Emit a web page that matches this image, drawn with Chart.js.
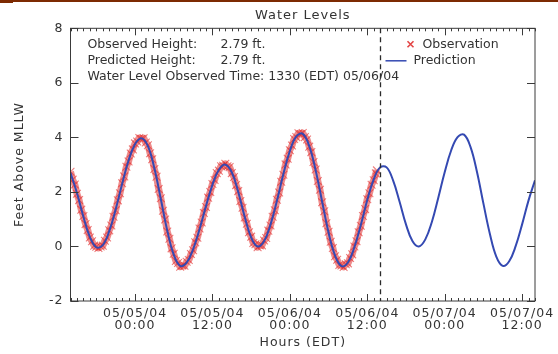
<!DOCTYPE html>
<html>
<head>
<meta charset="utf-8">
<title>Water Levels</title>
<style>
  html, body { margin: 0; padding: 0; background: #fff; }
  #wrap { position: relative; width: 558px; height: 354px; overflow: hidden; }
  #topbar { position: absolute; left: 0; top: 0; width: 558px; height: 2px; background: #7d2a02; }
  #topbar-left { position: absolute; left: 0; top: 0; width: 13px; height: 3px; background: #7d2a02; }
  canvas { display: block; }
</style>
<script src="https://cdn.jsdelivr.net/npm/chart.js@4/dist/chart.umd.min.js"></script>
</head>
<body>
<div id="wrap">
  <canvas id="tide" width="558" height="354"></canvas>
  <div id="topbar"></div>
  <div id="topbar-left"></div>
</div>
<script>
const chartTitle = 'Water Levels';
const yAxisTitle = 'Feet Above MLLW';
const xAxisTitle = 'Hours (EDT)';

// x values are hours after 05/04/04 14:00 EDT
const xMinHour = 0;
const xMaxHour = 72;
const xTickHours = [10, 22, 34, 46, 58, 70];
const xTickLabels = [
  ['05/05/04', '00:00'], ['05/05/04', '12:00'], ['05/06/04', '00:00'],
  ['05/06/04', '12:00'], ['05/07/04', '00:00'], ['05/07/04', '12:00']
];
const yTicks = [-2, 0, 2, 4, 6, 8];

// predicted tide, one value per hour
const predStepHours = 1;
const predictedFeet = [
  2.70, 1.96, 1.09, 0.35, -0.03, 0.05, 0.56, 1.36, 2.29, 3.15,
  3.75, 3.97, 3.68, 2.87, 1.74, 0.58, -0.30, -0.71, -0.59, -0.11,
  0.63, 1.48, 2.26, 2.81, 3.00, 2.72, 2.00, 1.09, 0.33, 0.00,
  0.19, 0.80, 1.68, 2.66, 3.50, 4.04, 4.13, 3.69, 2.79, 1.65,
  0.51, -0.33, -0.72, -0.59, -0.03, 0.79, 1.70, 2.46, 2.90, 2.90,
  2.42, 1.65, 0.81, 0.20, 0.00, 0.26, 0.89, 1.78, 2.72, 3.52,
  4.01, 4.10, 3.65, 2.74, 1.58, 0.47, -0.37, -0.71, -0.54, 0.01,
  0.81, 1.69, 2.43
];

// observed water level, one value every 20 minutes
const obsStepMinutes = 20;
const observedFeet = [
  2.74, 2.45, 2.27, 1.93, 1.70, 1.35, 1.12, 0.82, 0.60, 0.33,
  0.19, 0.03, -0.01, -0.06, 0.00, 0.03, 0.21, 0.33, 0.59, 0.77,
  1.09, 1.33, 1.69, 1.95, 2.32, 2.57, 2.92, 3.12, 3.41, 3.56,
  3.78, 3.85, 3.98, 3.95, 3.97, 3.81, 3.71, 3.42, 3.20, 2.84,
  2.56, 2.11, 1.77, 1.31, 0.99, 0.55, 0.28, -0.07, -0.27, -0.53,
  -0.61, -0.74, -0.70, -0.71, -0.56, -0.50, -0.28, -0.14, 0.15, 0.32,
  0.66, 0.88, 1.23, 1.45, 1.79, 2.00, 2.29, 2.44, 2.69, 2.78,
  2.94, 2.96, 3.03, 2.94, 2.91, 2.69, 2.55, 2.25, 2.03, 1.67,
  1.42, 1.06, 0.83, 0.52, 0.36, 0.13, 0.08, -0.03, 0.04, 0.04,
  0.22, 0.31, 0.58, 0.77, 1.09, 1.33, 1.71, 1.98, 2.37, 2.63,
  3.01, 3.22, 3.53, 3.70, 3.94, 4.01, 4.15, 4.12, 4.16, 4.01,
  3.92, 3.66, 3.46, 3.10, 2.82, 2.40, 2.08, 1.62, 1.29, 0.85,
  0.54, 0.17, -0.06, -0.36, -0.49, -0.68, -0.70, -0.75, -0.65, -0.62,
  -0.42, -0.29, 0.00, 0.19, 0.52, 0.76, 1.12, 1.37, 1.73, 1.95,
  2.26, 2.43, 2.68
];
const latestObsHour = 47.5;   // 1330 EDT 05/06/04
const latestObsFeet = 2.79;
const latestPredFeet = 2.79;
const markerHour = 48;

const obsColor = 'rgba(220, 22, 22, 0.8)';
const predColor = '#3449b2';
const inkColor = '#333';
const textFont = '12.5px "DejaVu Sans"';

const predPoints = predictedFeet.map((v, i) => ({ x: xMinHour + i * predStepHours, y: v }));
const obsPoints = observedFeet.map((v, i) => ({ x: xMinHour + i * obsStepMinutes / 60, y: v }));
obsPoints.push({ x: latestObsHour, y: latestObsFeet });

const framePlugin = {
  id: 'frame',
  beforeDraw(chart) {
    // axis lettering in the original is wide, spread it out a little
    chart.ctx.letterSpacing = '1px';
  },
  beforeDatasetsDraw(chart) {
    chart.ctx.letterSpacing = '0px';
  },
  afterDatasetsDraw(chart) {
    const { ctx, chartArea: a, scales: { x, y } } = chart;
    ctx.save();
    ctx.strokeStyle = '#3a3a3a';
    ctx.lineWidth = 1;
    ctx.strokeRect(a.left, a.top, a.right - a.left, a.bottom - a.top);

    // hourly minor ticks top and bottom, longer at the labelled hours
    ctx.beginPath();
    for (let h = xMinHour; h <= xMaxHour; h++) {
      const px = Math.round(x.getPixelForValue(h)) + 0.5;
      const len = xTickHours.includes(h) ? 7 : 3;
      ctx.moveTo(px, a.bottom);
      ctx.lineTo(px, a.bottom - len);
      ctx.moveTo(px, a.top);
      ctx.lineTo(px, a.top + len);
    }
    yTicks.forEach((v) => {
      const py = Math.round(y.getPixelForValue(v)) + 0.5;
      ctx.moveTo(a.left, py);
      ctx.lineTo(a.left + 8, py);
      ctx.moveTo(a.right, py);
      ctx.lineTo(a.right - 8, py);
    });
    ctx.stroke();

    // current time marker
    const mx = Math.round(x.getPixelForValue(markerHour)) + 0.5;
    ctx.setLineDash([5, 4]);
    ctx.lineWidth = 1.3;
    ctx.strokeStyle = '#2a2a2a';
    ctx.beginPath();
    ctx.moveTo(mx, a.top);
    ctx.lineTo(mx, a.bottom);
    ctx.stroke();
    ctx.setLineDash([]);

    // info block
    ctx.font = textFont;
    ctx.fillStyle = inkColor;
    ctx.textBaseline = 'middle';
    const tx = a.left + 17;
    ctx.fillText('Observed Height:', tx, a.top + 16);
    ctx.fillText(latestObsFeet.toFixed(2) + ' ft.', tx + 133, a.top + 16);
    ctx.fillText('Predicted Height:', tx, a.top + 32);
    ctx.fillText(latestPredFeet.toFixed(2) + ' ft.', tx + 133, a.top + 32);
    ctx.fillText('Water Level Observed Time: 1330 (EDT) 05/06/04', tx, a.top + 48);

    // legend
    const lx = mx + 30;
    ctx.strokeStyle = obsColor;
    ctx.lineWidth = 1.6;
    ctx.beginPath();
    ctx.moveTo(lx - 3, a.top + 13);
    ctx.lineTo(lx + 3, a.top + 19);
    ctx.moveTo(lx + 3, a.top + 13);
    ctx.lineTo(lx - 3, a.top + 19);
    ctx.stroke();
    ctx.fillText('Observation', lx + 12, a.top + 16);
    ctx.strokeStyle = predColor;
    ctx.lineWidth = 1.5;
    ctx.beginPath();
    ctx.moveTo(mx + 5, a.top + 32.5);
    ctx.lineTo(mx + 26, a.top + 32.5);
    ctx.stroke();
    ctx.fillText('Prediction', mx + 33, a.top + 32);
    ctx.restore();
  }
};

const ctx = document.getElementById('tide');
const chart = new Chart(ctx, {
  type: 'line',
  data: {
    datasets: [
      {
        label: 'Prediction',
        data: predPoints,
        borderColor: predColor,
        borderWidth: 2,
        pointRadius: 0,
        tension: 0.4,
        order: 0
      },
      {
        label: 'Observation',
        data: obsPoints,
        showLine: true,
        borderColor: 'rgba(224, 48, 48, 0.55)',
        borderWidth: 7,
        tension: 0.3,
        pointStyle: 'crossRot',
        pointRadius: 5.5,
        pointBorderColor: 'rgba(225, 40, 40, 0.6)',
        pointBackgroundColor: 'rgba(225, 40, 40, 0.6)',
        pointBorderWidth: 1.1,
        order: 1
      }
    ]
  },
  options: {
    responsive: false,
    animation: false,
    layout: { padding: { top: 0, right: 23, bottom: 0, left: 0 } },
    plugins: {
      legend: { display: false },
      tooltip: { enabled: false },
      title: {
        display: true,
        text: chartTitle,
        fullSize: false,
        color: inkColor,
        font: { family: 'DejaVu Sans', size: 13, weight: 'normal', lineHeight: 1.2 },
        padding: { top: 8, bottom: 4.7 }
      }
    },
    scales: {
      x: {
        type: 'linear',
        min: xMinHour,
        max: xMaxHour,
        afterBuildTicks(scale) {
          scale.ticks = xTickHours.map((v) => ({ value: v }));
        },
        afterFit(scale) { scale.height = 53; },
        grid: { display: false, drawTicks: false },
        border: { display: false },
        ticks: {
          autoSkip: false,
          maxRotation: 0,
          padding: 6,
          color: inkColor,
          font: { family: 'DejaVu Sans', size: 12.5, lineHeight: 1.0 },
          callback: (value) => xTickLabels[xTickHours.indexOf(value)]
        },
        title: {
          display: true,
          text: xAxisTitle,
          color: inkColor,
          font: { family: 'DejaVu Sans', size: 12.5, lineHeight: 1.2 },
          padding: { top: 0, bottom: 3.5 }
        }
      },
      y: {
        min: -2,
        max: 8,
        afterBuildTicks(scale) {
          scale.ticks = yTicks.map((v) => ({ value: v }));
        },
        afterFit(scale) { scale.width = 70.5; },
        grid: { display: false, drawTicks: false },
        border: { display: false },
        ticks: {
          padding: 7,
          color: inkColor,
          font: { family: 'DejaVu Sans', size: 12.5 }
        },
        title: {
          display: true,
          text: yAxisTitle,
          color: inkColor,
          font: { family: 'DejaVu Sans', size: 12.5, lineHeight: 1.2 },
          padding: { top: 12, bottom: 0 }
        }
      }
    }
  },
  plugins: [framePlugin]
});
</script>
</body>
</html>
